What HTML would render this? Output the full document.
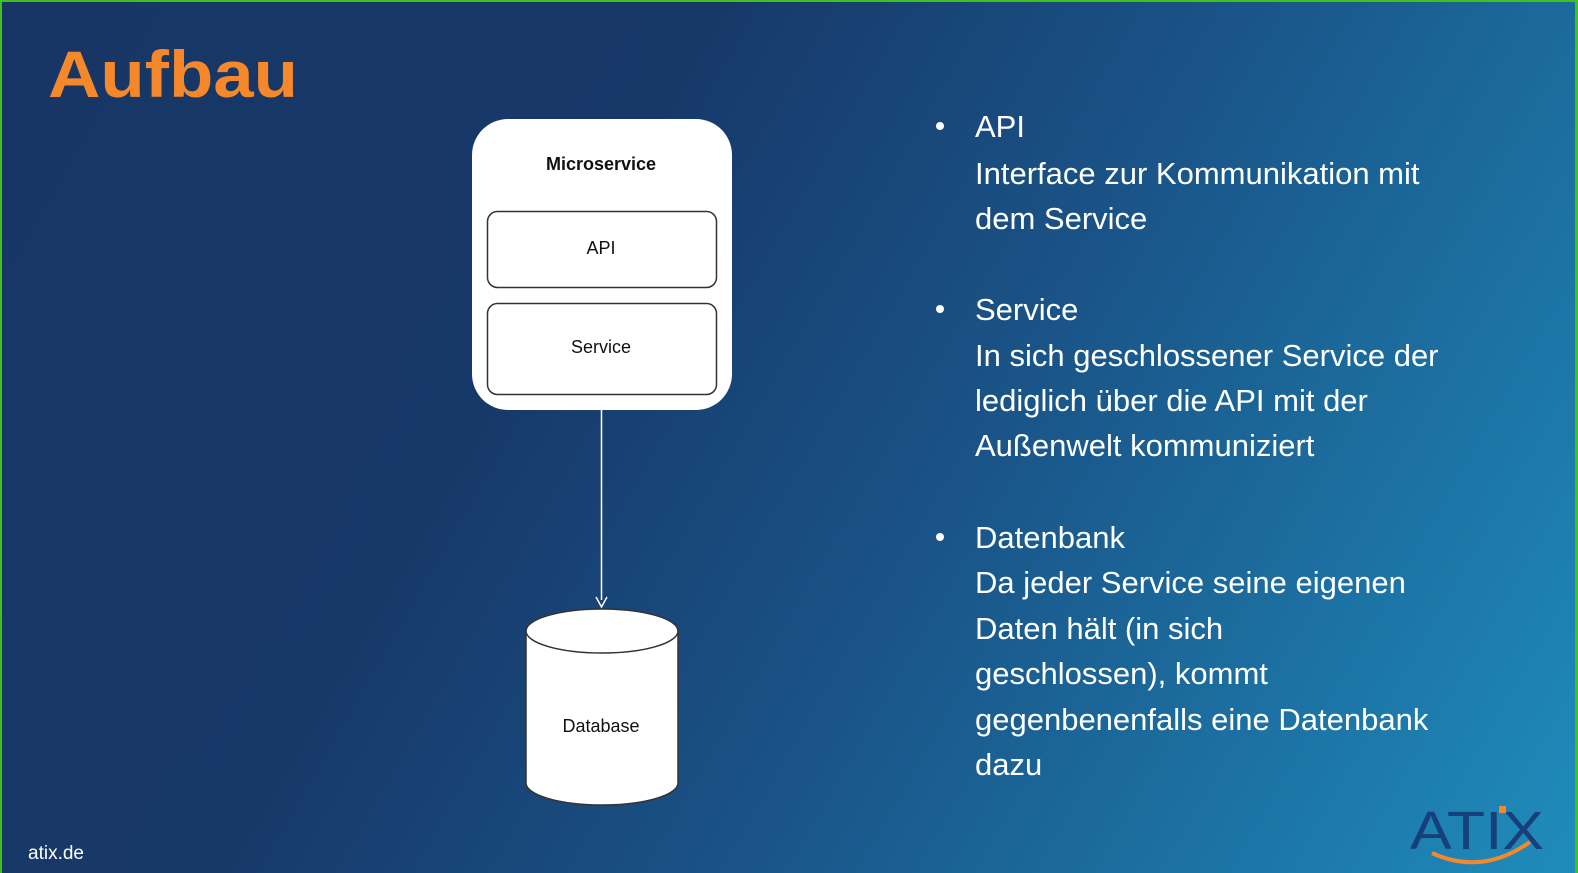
<!DOCTYPE html>
<html><head><meta charset="utf-8"><style>
body{margin:0;width:1578px;height:873px;overflow:hidden}
#bg{position:absolute;left:0;top:0;width:1578px;height:873px;box-sizing:border-box;border-top:2px solid #3fc21a;border-left:2px solid #3fc21a;border-right:3px solid #3fc21a;background:linear-gradient(120deg,#173665 0%,#17396a 35%,#1a5488 60%,#1e8cbb 100%);font-family:"Liberation Sans",sans-serif}
.t{position:absolute;color:#fff;font-size:31px;line-height:46px;white-space:nowrap;letter-spacing:0px}
.b{position:absolute;left:934px;width:8px;height:8px;border-radius:50%;background:#fff}
</style></head><body><div id="bg">
<div style="position:absolute;left:46px;top:34px;font-size:66px;font-weight:bold;color:#f6882c;letter-spacing:0px;transform:scaleX(1.1);transform-origin:0 0">Aufbau</div>
<svg width="1578" height="873" style="position:absolute;left:-2px;top:-2px">
<rect x="472" y="119" width="260" height="291" rx="36" fill="#fff"/>
<text x="601" y="170" text-anchor="middle" font-family="Liberation Sans" font-weight="bold" font-size="18" fill="#111">Microservice</text>
<rect x="487.5" y="211.5" width="229" height="76" rx="10" fill="#fff" stroke="#333" stroke-width="1.5"/>
<text x="601" y="254" text-anchor="middle" font-family="Liberation Sans" font-size="18" fill="#111">API</text>
<rect x="487.5" y="303.5" width="229" height="91" rx="10" fill="#fff" stroke="#333" stroke-width="1.5"/>
<text x="601" y="353" text-anchor="middle" font-family="Liberation Sans" font-size="18" fill="#111">Service</text>
<line x1="601.5" y1="410" x2="601.5" y2="600" stroke="#fff" stroke-width="1.5"/>
<path d="M596 597 L601.5 607 L607 597" fill="none" stroke="#fff" stroke-width="1.5"/>
<path d="M526 631 L526 783 A76 22 0 0 0 678 783 L678 631 Z" fill="#fff" stroke="#333" stroke-width="1.5"/>
<ellipse cx="602" cy="631" rx="76" ry="22" fill="#fff" stroke="#333" stroke-width="1.5"/>
<text x="601" y="732" text-anchor="middle" font-family="Liberation Sans" font-size="18" fill="#111">Database</text>
<text x="1477" y="849" text-anchor="middle" font-family="Liberation Sans" font-size="54" fill="#173f79" textLength="134" lengthAdjust="spacingAndGlyphs">ATIX</text>
<rect x="1499" y="806" width="7" height="7" fill="#f6882c"/>
<path d="M1432 853 Q1482 876 1530 842" fill="none" stroke="#f6882c" stroke-width="4"/>
</svg>
<div style="position:absolute;left:26px;top:841px;color:#fff;font-size:19px">atix.de</div>
<div class="b" style="top:120px"></div><div class="b" style="top:303px"></div><div class="b" style="top:531px"></div>
<div class="t" style="left:973px;top:102px">API</div>
<div class="t" style="left:973px;top:149px">Interface zur Kommunikation mit</div>
<div class="t" style="left:973px;top:194px">dem Service</div>
<div class="t" style="left:973px;top:285px">Service</div>
<div class="t" style="left:973px;top:331px">In sich geschlossener Service der</div>
<div class="t" style="left:973px;top:376px">lediglich über die API mit der</div>
<div class="t" style="left:973px;top:421px">Außenwelt kommuniziert</div>
<div class="t" style="left:973px;top:513px">Datenbank</div>
<div class="t" style="left:973px;top:558px">Da jeder Service seine eigenen</div>
<div class="t" style="left:973px;top:604px">Daten hält (in sich</div>
<div class="t" style="left:973px;top:649px">geschlossen), kommt</div>
<div class="t" style="left:973px;top:695px">gegenbenenfalls eine Datenbank</div>
<div class="t" style="left:973px;top:740px">dazu</div>
</div></body></html>
